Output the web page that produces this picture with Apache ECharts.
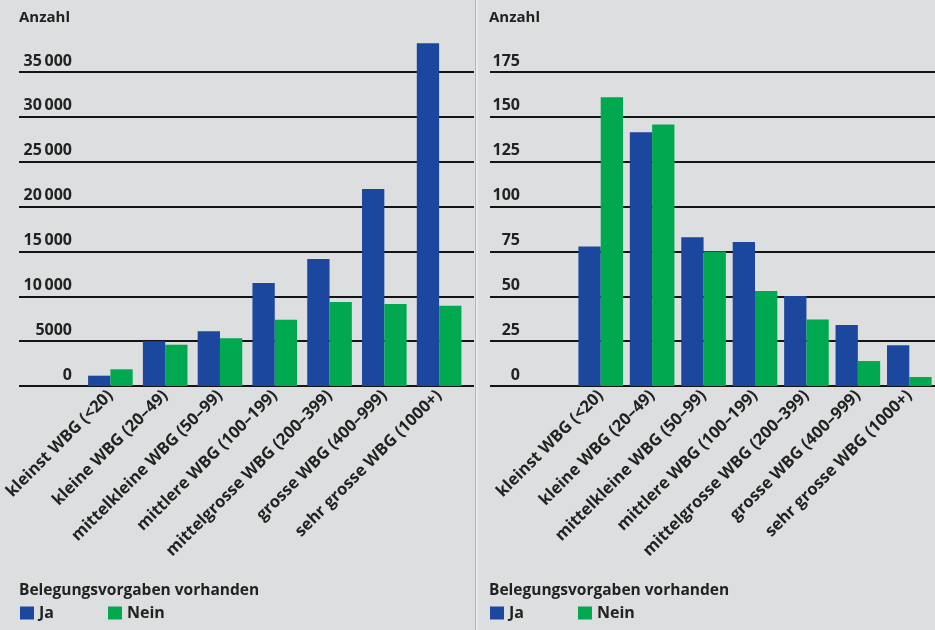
<!DOCTYPE html>
<html><head><meta charset="utf-8">
<script src="https://cdn.jsdelivr.net/npm/echarts@6/dist/echarts.min.js"></script>
<style>html,body{margin:0;padding:0;background:#dcdedf;}#c{width:935px;height:630px;}</style>
</head><body><div id="c"></div>
<script>
const categories = ['kleinst WBG (<20)','kleine WBG (20–49)','mittelkleine WBG (50–99)','mittlere WBG (100–199)','mittelgrosse WBG (200–399)','grosse WBG (400–999)','sehr grosse WBG (1000+)'];
const leftJa   = [1150, 4980, 6100, 11480, 14160, 21960, 38200];
const leftNein = [1860, 4600, 5320, 7390, 9360, 9140, 8950];
const rightJa   = [77.7, 141.4, 82.9, 80.3, 50.2, 34, 22.7];
const rightNein = [160.9, 145.7, 74.9, 53, 37, 13.9, 5];
const leftTicks = {max: 35000, interval: 5000};
const rightTicks = {max: 175, interval: 25};
const yTitle = 'Anzahl';
const legendTitle = 'Belegungsvorgaben vorhanden';
const seriesNames = ['Ja', 'Nein'];

const FONT = 'Open Sans';
const TXT = '#222222';
const BLUE = '#1b479f';
const GREEN = '#00a84f';

function fmt(v){
  const s = String(v);
  if (v >= 10000) return s.slice(0, s.length-3) + '\u2009' + s.slice(-3);
  return s;
}

const chart = echarts.init(document.getElementById('c'), null, {renderer:'canvas'});

const gridTop = 72, gridBottom = 244;
const grids = [
  {left: 19, right: 461, top: gridTop, bottom: gridBottom},
  {left: 83, right: 468.5, top: gridTop, bottom: gridBottom},
  {left: 490, right: 0, top: gridTop, bottom: gridBottom},
  {left: 575, right: 0, top: gridTop, bottom: gridBottom}
];

function lineY(gi, ticks, labelRight){
  return {type:'value', gridIndex: gi, min: 0, max: ticks.max, interval: ticks.interval,
    axisLine:{show:false}, axisTick:{show:false},
    splitLine:{show:true, lineStyle:{color:'#141414', width:2}},
    axisLabel:{inside:true, margin: labelRight, align:'right', verticalAlign:'bottom',
      padding:[0,0,3,0], color: TXT, fontFamily: FONT, fontWeight:'bold', fontSize:16, formatter: fmt}};
}
function barY(gi, ticks){
  return {type:'value', gridIndex: gi, min:0, max: ticks.max, interval: ticks.interval,
    axisLine:{show:false}, axisTick:{show:false}, splitLine:{show:false}, axisLabel:{show:false}};
}
function lineX(gi){
  return {type:'category', gridIndex: gi, data: categories, show:false};
}
function barX(gi){
  return {type:'category', gridIndex: gi, data: categories,
    axisLine:{show:false}, axisTick:{show:false},
    axisLabel:{interval:0, rotate:45, margin:7, color: TXT, fontFamily: FONT, fontWeight:'bold', fontSize:16.5}};
}
function bar(name, data, xi, yi, color){
  return {type:'bar', name, data, xAxisIndex: xi, yAxisIndex: yi, barWidth: 22.3, barGap: '0%',
    clip:false, itemStyle:{color}, emphasis:{disabled:true}, silent:true};
}
const legendText = {color: TXT, fontFamily: FONT, fontWeight:'bold', fontSize:16};
function legend(name, left){
  return {data:[name], left, top: 605, itemWidth:14, itemHeight:13, icon:'rect', itemGap:5,
    textStyle: legendText, selectedMode:false, padding:0};
}

chart.setOption({
  backgroundColor:'#dcdedf',
  animation:false,
  grid: grids,
  xAxis: [lineX(0), barX(1), lineX(2), barX(3)],
  yAxis: [lineY(0, leftTicks, 53), barY(1, leftTicks), lineY(2, rightTicks, 30), barY(3, rightTicks)],
  series: [
    bar(seriesNames[0], leftJa, 1, 1, BLUE),
    bar(seriesNames[1], leftNein, 1, 1, GREEN),
    bar(seriesNames[0], rightJa, 3, 3, BLUE),
    bar(seriesNames[1], rightNein, 3, 3, GREEN)
  ],
  legend: [legend(seriesNames[0], 20), legend(seriesNames[1], 108), legend(seriesNames[0], 490), legend(seriesNames[1], 578)],
  title: [
    {text: yTitle, left: 14, top: 5, textStyle:{color:TXT, fontFamily:FONT, fontWeight:'bold', fontSize:15}},
    {text: yTitle, left: 484, top: 5, textStyle:{color:TXT, fontFamily:FONT, fontWeight:'bold', fontSize:15}},
    {text: legendTitle, left: 14, top: 578, textStyle:{color:TXT, fontFamily:FONT, fontWeight:'bold', fontSize:15.5}},
    {text: legendTitle, left: 484, top: 578, textStyle:{color:TXT, fontFamily:FONT, fontWeight:'bold', fontSize:15.5}}
  ],
  graphic: [
    {type:'rect', shape:{x:475, y:0, width:1, height:630}, style:{fill:'#b5b7b9'}, silent:true},
    {type:'rect', shape:{x:476, y:0, width:2, height:630}, style:{fill:'#e9eaeb'}, silent:true}
  ]
});
</script></body></html>
